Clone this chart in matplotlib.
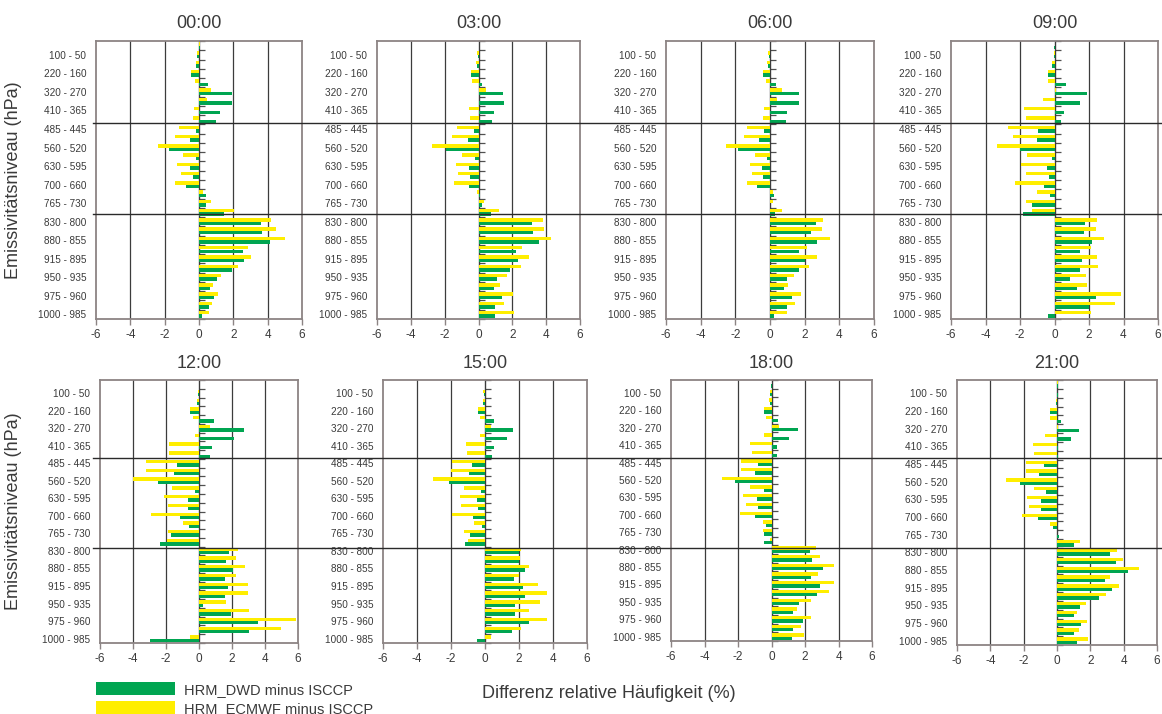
import numpy as np
import matplotlib.pyplot as plt
import matplotlib.transforms as mtransforms
from matplotlib.lines import Line2D
from matplotlib.patches import Patch

plt.rcParams['font.family'] = ['Liberation Sans', 'DejaVu Sans']
plt.rcParams['axes.unicode_minus'] = False

# emissivity levels, top to bottom (every other one is labelled)
levels = ['50 - 10', '100 - 50', '160 - 100', '220 - 160', '270 - 220', '320 - 270',
          '365 - 320', '410 - 365', '445 - 410', '485 - 445', '520 - 485', '560 - 520',
          '595 - 560', '630 - 595', '660 - 630', '700 - 660', '730 - 700', '765 - 730',
          '800 - 765', '830 - 800', '855 - 830', '880 - 855', '895 - 880', '915 - 895',
          '935 - 915', '950 - 935', '960 - 950', '975 - 960', '985 - 975', '1000 - 985']

times = ['00:00', '03:00', '06:00', '09:00', '12:00', '15:00', '18:00', '21:00']

# HRM_DWD minus ISCCP
dwd_00 = [0.05, -0.1, -0.15, -0.45, 0.5, 1.9, 1.9, 1.25, 1.0, -0.2, -0.55, -1.75, -0.2, -0.55, -0.35,
          -0.75, 0.4, 0.4, 1.45, 3.6, 3.65, 4.15, 2.55, 2.6, 1.9, 1.05, 0.65, 0.9, 0.6, 0.2]
dwd_03 = [0.05, -0.05, -0.1, -0.45, 0.2, 1.45, 1.5, 0.9, 0.8, -0.25, -0.65, -1.95, -0.2, -0.55, -0.5,
          -0.55, 0.08, 0.18, 0.75, 3.15, 3.25, 3.6, 2.2, 2.35, 1.85, 1.1, 0.9, 1.4, 1.0, 0.98]
dwd_06 = [0.02, -0.08, -0.13, -0.4, 0.35, 1.7, 1.65, 1.0, 0.92, -0.33, -0.63, -1.85, -0.15, -0.48, -0.42,
          -0.73, 0.25, 0.02, 0.3, 2.67, 2.38, 2.69, 1.67, 2.02, 1.67, 0.98, 0.79, 1.25, 0.98, 0.21]
dwd_09 = [-0.05, -0.05, -0.12, -0.4, 0.65, 1.9, 1.47, 0.56, 0.4, -0.97, -1.0, -2.0, -0.17, -0.46, -0.29,
          -0.58, -0.27, -1.28, -1.8, 1.74, 1.7, 2.16, 1.49, 1.6, 1.49, 0.87, 1.29, 2.4, 1.99, -0.39]
dwd_12 = [0.02, -0.08, -0.14, -0.56, 0.92, 2.7, 2.1, 0.78, 0.66, -1.36, -1.52, -2.5, -0.22, -0.66, -0.64,
          -1.14, -0.62, -1.68, -2.36, 1.8, 1.66, 2.06, 1.6, 1.78, 1.58, 0.24, 1.96, 3.6, 3.04, -2.98]
dwd_15 = [0.01, -0.08, -0.12, -0.42, 0.51, 1.64, 1.29, 0.55, 0.4, -0.79, -0.93, -2.12, -0.24, -0.5, -0.42,
          -0.71, -0.16, -0.89, -1.17, 1.98, 2.02, 2.36, 1.68, 2.22, 2.34, 1.78, 1.78, 2.61, 1.58, -0.5]
dwd_18 = [-0.02, -0.08, -0.1, -0.46, 0.36, 1.58, 1.07, 0.3, 0.3, -0.79, -0.97, -2.16, -0.44, -0.85, -0.81,
          -0.97, -0.32, -0.46, -0.46, 2.32, 2.42, 3.07, 2.36, 2.87, 2.71, 1.66, 1.31, 1.88, 1.29, 1.23]
dwd_21 = [0.03, 0.03, -0.04, -0.44, 0.24, 1.32, 0.84, 0.04, 0.04, -0.78, -1.08, -2.2, -0.64, -0.98, -0.98,
          -1.14, -0.24, 0.1, 1.0, 3.2, 3.54, 4.26, 2.9, 3.3, 2.52, 1.4, 1.02, 1.46, 1.0, 1.2]

# HRM_ECMWF minus ISCCP
ecm_00 = [0.05, -0.1, -0.15, -0.45, -0.25, 0.7, 0.45, -0.3, -0.35, -1.15, -1.4, -2.4, -0.95, -1.3, -1.05,
          -1.4, 0.25, 0.7, 2.05, 4.2, 4.5, 5.0, 2.85, 3.05, 2.25, 1.3, 0.8, 1.1, 0.75, 0.6]
ecm_03 = [0.02, -0.1, -0.15, -0.45, -0.4, 0.45, 0.05, -0.55, -0.5, -1.3, -1.55, -2.75, -0.95, -1.35, -1.2,
          -1.45, -0.1, 0.3, 1.2, 3.8, 3.85, 4.3, 2.55, 3.0, 2.5, 1.7, 1.25, 2.05, 1.5, 2.1]
ecm_06 = [0.02, -0.1, -0.15, -0.4, -0.25, 0.7, 0.4, -0.35, -0.42, -1.35, -1.5, -2.55, -0.88, -1.15, -1.02,
          -1.33, 0.17, 0.2, 0.67, 3.08, 3.02, 3.46, 2.15, 2.69, 2.23, 1.37, 1.02, 1.79, 1.46, 0.98]
ecm_09 = [0.02, -0.05, -0.13, -0.38, -0.38, 0.1, -0.68, -1.74, -1.68, -2.67, -2.42, -3.36, -1.6, -1.93, -1.68,
          -2.3, -1.0, -1.68, -1.28, 2.49, 2.43, 2.88, 2.1, 2.49, 2.53, 1.82, 1.91, 3.86, 3.48, 2.09]
ecm_12 = [0.02, -0.08, -0.14, -0.56, -0.38, 0.64, -0.22, -1.82, -1.82, -3.24, -3.22, -4.0, -1.66, -2.14, -1.88,
          -2.9, -0.94, -1.88, -1.94, 2.38, 2.26, 2.78, 2.24, 2.94, 2.96, 1.64, 3.02, 5.9, 4.94, -0.54]
ecm_15 = [-0.02, -0.1, -0.12, -0.4, -0.28, 0.38, -0.28, -1.13, -1.07, -1.92, -2.0, -3.05, -1.25, -1.49, -1.41,
          -1.94, -0.63, -1.23, -1.01, 2.12, 2.04, 2.61, 2.02, 3.1, 3.66, 3.23, 2.61, 3.66, 2.12, 0.36]
ecm_18 = [0.02, -0.08, -0.12, -0.46, -0.3, 0.44, -0.44, -1.29, -1.17, -1.84, -1.8, -2.97, -1.27, -1.7, -1.5,
          -1.9, -0.51, -0.5, -0.06, 2.65, 2.91, 3.76, 2.77, 3.72, 3.43, 2.34, 1.52, 2.36, 1.74, 1.94]
ecm_21 = [0.03, 0.02, -0.06, -0.42, -0.4, 0.04, -0.7, -1.46, -1.36, -1.84, -1.86, -3.06, -1.38, -1.82, -1.7,
          -2.12, -0.44, -0.02, 1.36, 3.62, 3.98, 4.9, 3.2, 3.72, 2.94, 1.76, 1.18, 1.82, 1.34, 1.88]

dwd_series = [dwd_00, dwd_03, dwd_06, dwd_09, dwd_12, dwd_15, dwd_18, dwd_21]
ecm_series = [ecm_00, ecm_03, ecm_06, ecm_09, ecm_12, ecm_15, ecm_18, ecm_21]

xticks = [-6, -4, -2, 0, 2, 4, 6]
green = '#00A551'
yellow = '#FFEE00'
txt = '#3a3a3a'
frame = '#8c8484'

W, H = 1162, 714
fig = plt.figure(figsize=(W / 100, H / 100), dpi=100)

# axes boxes in pixels (left, top, right, bottom)
boxes = [(96, 41, 302, 319), (377, 41, 580, 319), (666, 41, 874, 319), (951, 41, 1158, 319),
         (100, 380, 298, 643), (383, 380, 587, 643), (671, 380, 872, 641), (957, 380, 1157, 645)]
# separator lines between cloud layers (in category units), per row
separators = [[8.33, 18.16], [8.43, 18.69]]

y = np.arange(len(levels))
axes = []
for k, (l, t, r, b) in enumerate(boxes):
    ax = fig.add_axes([l / W, 1 - b / H, (r - l) / W, (b - t) / H])
    axes.append(ax)
    ax.barh(y - 0.19, ecm_series[k], height=0.38, color=yellow, zorder=3)
    ax.barh(y + 0.19, dwd_series[k], height=0.38, color=green, zorder=3)
    ax.set_xlim(-6, 6)
    ax.set_ylim(len(levels) - 0.5, -0.5)
    ax.set_xticks(xticks)
    ax.set_xticklabels([str(v) for v in xticks])
    ax.set_yticks(y[1::2])
    ax.set_yticklabels(levels[1::2])
    ax.tick_params(axis='y', length=0, pad=7, labelsize=7.2, labelcolor=txt)
    ax.tick_params(axis='x', length=4, width=1, color=frame, labelsize=8.5, labelcolor=txt, pad=3)
    for v in xticks[1:-1]:
        ax.axvline(v, color='#3c3c3c', lw=0.9, zorder=1)
    for s in ax.spines.values():
        s.set_color(frame)
        s.set_linewidth(1.3)
    # category axis crossing at zero with small ticks
    sec = ax.secondary_yaxis(0.5)
    sec.set_yticks(np.arange(len(levels) + 1) - 0.5)
    sec.set_yticklabels([])
    sec.tick_params(axis='y', length=4, width=0.9, color='#505050', direction='out')
    sec.spines['left'].set_color('#3c3c3c')
    sec.spines['left'].set_linewidth(0.9)
    ax.set_title(times[k], fontsize=13, color=txt, pad=9)

for row in range(2):
    ax0 = axes[row * 4]
    blend = mtransforms.blended_transform_factory(fig.transFigure, ax0.transData)
    for sy in separators[row]:
        fig.add_artist(Line2D([93 / W, 1.0], [sy, sy], transform=blend, color='#2a2a2a', lw=1.0, zorder=5))
    yl = mtransforms.blended_transform_factory(fig.transFigure, ax0.transAxes)
    fig.text(14 / W, 0.5, 'Emissivitätsniveau (hPa)', transform=yl, rotation=90,
             ha='center', va='center', fontsize=13, color=txt)

fig.text(609 / W, 1 - 694 / H, 'Differenz relative Häufigkeit (%)', ha='center', va='center',
         fontsize=13, color=txt)

handles = [Patch(facecolor=green, edgecolor='none'), Patch(facecolor=yellow, edgecolor='none')]
fig.legend(handles, ['HRM_DWD minus ISCCP', 'HRM_ECMWF minus ISCCP'], loc='upper left',
           bbox_to_anchor=(86 / W, 1 - 672 / H), frameon=False, fontsize=10.5,
           handlelength=5.4, handleheight=1.0, handletextpad=0.6, labelspacing=0.32,
           borderpad=0.2, labelcolor=txt)

fig.savefig('out.png', dpi=100)
